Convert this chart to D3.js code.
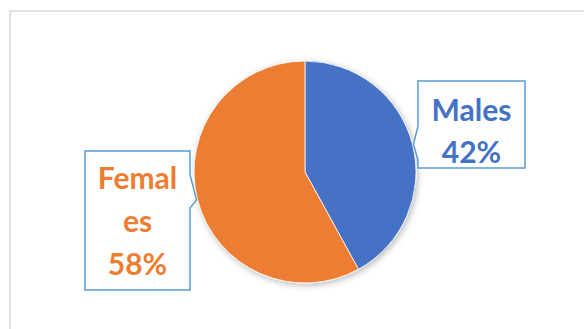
<!DOCTYPE html>
<html>
<head>
<meta charset="utf-8">
<script src="https://cdn.jsdelivr.net/npm/d3@7"></script>
<style>
  html, body { margin: 0; padding: 0; background: #fff; }
  svg { display: block; }
</style>
</head>
<body>
<svg id="chart" width="584" height="329"></svg>
<script>
// Gender split
const categories = ["Males", "Females"];
const shares = [42, 58];
const labelLines = [["Males", "42%"], ["Femal", "es", "58%"]];
const colors = ["#4472C4", "#ED7D31"];

const svg = d3.select("#chart");
const W = 584, H = 329;

// chart frame (runs off the right and bottom edges)
svg.append("rect")
  .attr("x", 10).attr("y", 11)
  .attr("width", 640).attr("height", 400)
  .attr("fill", "#fff")
  .attr("stroke", "#d9d9d9").attr("stroke-width", 1.5);

const cx = 305, cy = 172, r = 111;

const defs = svg.append("defs");
const f = defs.append("filter").attr("id", "shadow")
  .attr("x", "-20%").attr("y", "-20%").attr("width", "140%").attr("height", "140%");
f.append("feDropShadow")
  .attr("dx", 1.5).attr("dy", 2).attr("stdDeviation", 3)
  .attr("flood-color", "#000").attr("flood-opacity", 0.28);

const pie = d3.pie().sort(null).value(d => d)(shares);
const arc = d3.arc().innerRadius(0).outerRadius(r);

const g = svg.append("g").attr("transform", `translate(${cx},${cy})`);
g.append("g").attr("filter", "url(#shadow)")
  .selectAll("path").data(pie).join("path")
  .attr("d", arc)
  .attr("fill", (d, i) => colors[i])
  .attr("stroke", "#fff").attr("stroke-width", 0.8);

// callout boxes: [left, top, right, bottom] and pointer join on the box side
const boxes = [
  { x0: 418, y0: 81, x1: 525, y1: 168, side: "left", py0: 126, py1: 160, baseline0: 121, step: 42 },
  { x0: 85, y0: 151, x1: 190, y1: 290, side: "right", py0: 175, py1: 208, baseline0: 189, step: 43 }
];

pie.forEach((d, i) => {
  const b = boxes[i];
  const a = (d.startAngle + d.endAngle) / 2;
  const tx = cx + (r + 1) * Math.sin(a);
  const ty = cy - (r + 1) * Math.cos(a);
  let pts;
  if (b.side === "left") {
    pts = [[b.x0, b.y0], [b.x1, b.y0], [b.x1, b.y1], [b.x0, b.y1],
           [b.x0, b.py1], [tx, ty], [b.x0, b.py0]];
  } else {
    pts = [[b.x0, b.y0], [b.x1, b.y0], [b.x1, b.py0], [tx, ty],
           [b.x1, b.py1], [b.x1, b.y1], [b.x0, b.y1]];
  }
  svg.append("path")
    .attr("d", d3.line()(pts) + "Z")
    .attr("fill", "#fff")
    .attr("stroke", "#5B9BD5").attr("stroke-width", 1.5)
    .attr("stroke-linejoin", "miter");

  const cxText = (b.x0 + b.x1) / 2;
  svg.append("text")
    .attr("font-family", "Lato, 'Open Sans', sans-serif")
    .attr("font-weight", "bold")
    .attr("font-size", 30)
    .attr("fill", colors[i])
    .attr("text-anchor", "middle")
    .selectAll("tspan").data(labelLines[i]).join("tspan")
    .attr("x", cxText)
    .attr("y", (t, k) => b.baseline0 + k * b.step)
    .text(t => t);
});
</script>
</body>
</html>
